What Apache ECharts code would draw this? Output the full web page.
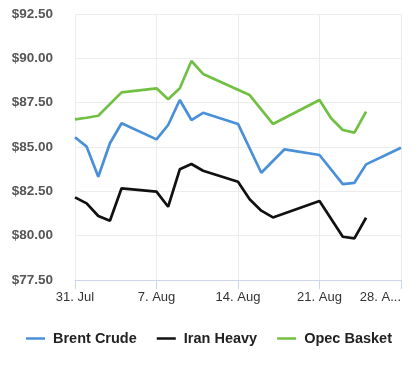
<!DOCTYPE html>
<html>
<head>
<meta charset="utf-8">
<script src="https://cdn.jsdelivr.net/npm/echarts@6/dist/echarts.min.js"></script>
<style>
html,body{margin:0;padding:0;background:#fff;}
#chart{width:418px;height:369px;}
</style>
</head>
<body>
<div id="chart"></div>
<script>
// Day offsets from 31 Jul
const tickLabels = ['31. Jul', '7. Aug', '14. Aug', '21. Aug', '28. A...'];
const seriesNames = ['Brent Crude', 'Iran Heavy', 'Opec Basket'];

const brentDays   = [0, 1, 2, 3, 4, 7, 8, 9, 10, 11, 14, 16, 18, 21, 23, 24, 25, 28];
const brentValues = [85.55, 85.02, 83.32, 85.21, 86.34, 85.43, 86.24, 87.65, 86.52, 86.93, 86.30, 83.55, 84.87, 84.55, 82.91, 82.98, 84.02, 84.96];

const iranDays   = [0, 1, 2, 3, 4, 7, 8, 9, 10, 11, 14, 15, 16, 17, 21, 23, 24, 25];
const iranValues = [82.16, 81.82, 81.11, 80.84, 82.67, 82.48, 81.63, 83.74, 84.04, 83.66, 83.04, 82.05, 81.41, 81.03, 81.95, 79.94, 79.85, 81.01];

const opecDays   = [0, 1, 2, 4, 7, 8, 9, 10, 11, 15, 17, 21, 22, 23, 24, 25];
const opecValues = [86.56, 86.65, 86.76, 88.08, 88.31, 87.69, 88.31, 89.85, 89.12, 87.93, 86.30, 87.65, 86.62, 85.96, 85.81, 86.99];

const colors = ['#4a90d9', '#111111', '#72c043'];

function pairs(d, v) { return d.map((x, i) => [x, v[i]]); }

const chart = echarts.init(document.getElementById('chart'));
chart.setOption({
  animation: false,
  color: colors,
  grid: { left: 75, right: 17, top: 14, bottom: 89, containLabel: false, outerBoundsMode: 'none' },
  legend: {
    top: 326,
    left: 'center',
    itemWidth: 19,
    itemHeight: 14,
    itemGap: 20,
    icon: 'path://M0,6 L19,6 L19,8.5 L0,8.5 Z',
    textStyle: { fontFamily: 'Liberation Sans, Arial, sans-serif', fontWeight: 'bold', fontSize: 14.5, color: '#222', padding: [0, 0, 0, 3] },
    data: seriesNames
  },
  xAxis: {
    type: 'value',
    min: 0, max: 28, interval: 7,
    axisLine: { show: true, lineStyle: { color: '#ccd6eb', width: 1 } },
    axisTick: { show: true, length: 9, lineStyle: { color: '#ccd6eb' } },
    splitLine: { show: true, lineStyle: { color: '#ececec' } },
    axisLabel: {
      margin: 11,
      fontFamily: 'Liberation Sans, Arial, sans-serif',
      fontSize: 13,
      color: '#333',
      alignMaxLabel: 'right',
      formatter: v => tickLabels[Math.round(v / 7)]
    }
  },
  yAxis: {
    type: 'value',
    min: 77.5, max: 92.5, interval: 2.5,
    axisLine: { show: false },
    axisTick: { show: false },
    splitLine: { show: true, lineStyle: { color: '#ececec' } },
    axisLabel: {
      margin: 22,
      fontFamily: 'Liberation Sans, Arial, sans-serif',
      fontSize: 13.5,
      fontWeight: 'bold',
      color: '#555',
      formatter: v => '$' + v.toFixed(2)
    }
  },
  series: [
    { name: seriesNames[0], type: 'line', data: pairs(brentDays, brentValues), showSymbol: false, lineStyle: { width: 2.7 } },
    { name: seriesNames[1], type: 'line', data: pairs(iranDays, iranValues), showSymbol: false, lineStyle: { width: 2.7 } },
    { name: seriesNames[2], type: 'line', data: pairs(opecDays, opecValues), showSymbol: false, lineStyle: { width: 2.7 } }
  ]
});
</script>
</body>
</html>
